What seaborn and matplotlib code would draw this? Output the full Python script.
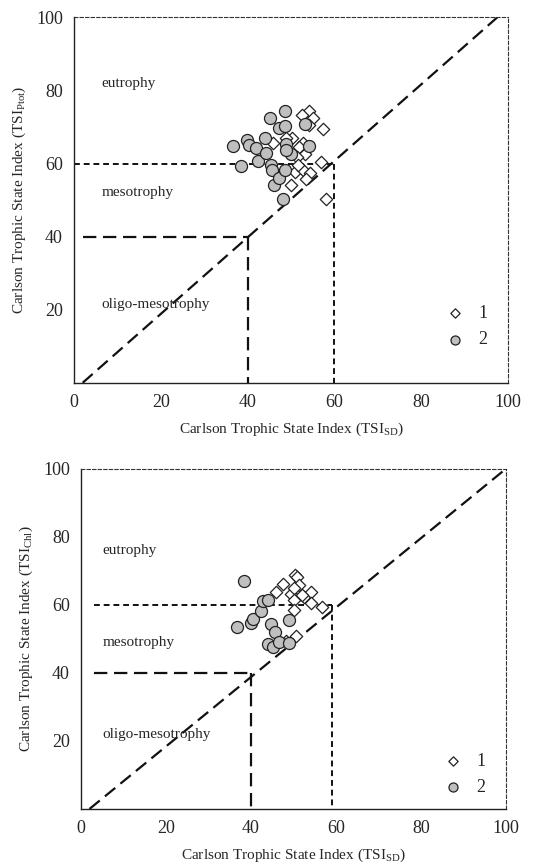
import matplotlib
matplotlib.use("Agg")
import matplotlib.pyplot as plt
import pandas as pd
import seaborn as sns

# top panel: TSI_SD vs TSI_Ptot
top_sd_1 = [54.1, 52.6, 55.1, 54.2, 57.3, 50.2, 48.8, 45.8, 52.8, 51.8, 53.2, 51.3,
            56.9, 50.9, 52.8, 54.4, 53.4, 50.0, 58.1, 51.5]
top_p_1 = [74.5, 73.2, 72.5, 70.5, 69.5, 67.0, 67.0, 65.6, 65.6, 64.4, 62.5, 61.8,
           60.5, 57.7, 58.2, 57.3, 55.9, 54.0, 50.4, 59.5]
top_sd_2 = [36.7, 38.4, 39.9, 40.4, 41.9, 42.3, 44.0, 44.2, 45.2, 45.3, 45.5, 46.1,
            47.2, 47.3, 48.1, 48.5, 48.6, 48.8, 48.7, 50.0, 53.3, 54.1, 48.8]
top_p_2 = [64.8, 59.4, 66.5, 65.2, 64.3, 60.6, 67.0, 63.0, 72.5, 59.6, 58.2, 54.0,
           69.6, 56.0, 50.4, 74.5, 70.2, 65.3, 58.2, 62.7, 70.7, 64.7, 63.8]

# bottom panel: TSI_SD vs TSI_Chl
bot_sd_1 = [50.4, 50.8, 47.5, 45.9, 51.4, 49.4, 50.2, 52.4, 50.2, 54.2, 54.1, 56.7,
            50.2, 50.6, 48.3, 52.0]
bot_chl_1 = [68.8, 68.3, 66.2, 63.7, 65.7, 63.1, 64.9, 62.2, 61.5, 63.9, 60.5, 59.5,
             58.5, 50.7, 49.5, 63.0]
bot_sd_2 = [38.3, 36.8, 40.0, 40.5, 42.4, 42.9, 44.1, 44.7, 45.7, 44.0, 45.1, 46.5,
            48.9, 48.9]
bot_chl_2 = [66.9, 53.4, 54.6, 55.8, 58.2, 61.0, 61.5, 54.4, 52.0, 48.5, 47.5, 49.0,
             55.6, 48.9]

ticks = [0, 20, 40, 60, 80, 100]
ytick_labels = ["", "20", "40", "60", "80", "100"]
zones = ["eutrophy", "mesotrophy", "oligo-mesotrophy"]
top_zone_y = [82, 52, 21.5]
bot_zone_y = [76, 49, 22]

top_diag_x = [2, 97.5]
top_diag_y = [0, 100]
bot_diag_x = [2, 100]
bot_diag_y = [0, 100]


def draw_panel(ax, sd1, v1, sd2, v2, diag_x, diag_y, zone_y, zone_x, ylab,
               start40, start60, v60, leg_anchor):
    d1 = pd.DataFrame({"x": sd1, "y": v1})
    d2 = pd.DataFrame({"x": sd2, "y": v2})
    # class boundaries
    ax.plot(diag_x, diag_y, color="#111111", lw=1.6, dashes=(6, 3), zorder=1)
    ax.plot([start40, 40], [40, 40], color="#111111", lw=1.6, dashes=(6, 3), zorder=1)
    ax.plot([40, 40], [40, 0], color="#111111", lw=1.6, dashes=(6, 3), zorder=1)
    ax.plot([start60, v60], [60, 60], color="#111111", lw=1.4, dashes=(3, 2), zorder=1)
    ax.plot([v60, v60], [60, 0], color="#111111", lw=1.4, dashes=(3, 2), zorder=1)

    sns.scatterplot(data=d1, x="x", y="y", ax=ax, marker="D", s=40, color="white",
                    edgecolor="#222222", linewidth=0.9, label="1", zorder=3)
    sns.scatterplot(data=d2, x="x", y="y", ax=ax, marker="o", s=75, color="#bfbfbf",
                    edgecolor="#222222", linewidth=0.9, label="2", zorder=4)

    for name, yy in zip(zones, zone_y):
        ax.text(zone_x, yy, name, fontsize=11, va="center")

    ax.set_xlim(0, 100)
    ax.set_ylim(0, 100)
    ax.set_xticks(ticks)
    ax.set_yticks(ticks)
    ax.set_yticklabels(ytick_labels)
    ax.tick_params(labelsize=13, length=3, width=0.8, direction="out", pad=5)
    ax.set_xlabel("Carlson Trophic State Index (TSI$_{\\mathregular{SD}}$)", fontsize=11, labelpad=7)
    ax.set_ylabel(ylab, fontsize=11, labelpad=6)

    for side in ["top", "right"]:
        ax.spines[side].set_linestyle((0, (3, 2)))
        ax.spines[side].set_linewidth(0.8)
        ax.spines[side].set_color("#333333")
    for side in ["left", "bottom"]:
        ax.spines[side].set_linewidth(1.0)
        ax.spines[side].set_color("#222222")

    ax.legend(loc="lower right", bbox_to_anchor=leg_anchor, frameon=False,
              fontsize=13, markerscale=0.75, handletextpad=0.5, labelspacing=0.5,
              handlelength=1.6)


sns.set_theme(style="white")
plt.rcParams["font.family"] = ["Liberation Serif", "DejaVu Serif"]
plt.rcParams["mathtext.fontset"] = "custom"
plt.rcParams["mathtext.rm"] = "Liberation Serif"
plt.rcParams["mathtext.it"] = "Liberation Serif"

fig = plt.figure(figsize=(5.36, 8.68), dpi=100)
ax1 = fig.add_axes([0.138, 0.559, 0.810, 0.421])
ax2 = fig.add_axes([0.151, 0.068, 0.793, 0.392])

draw_panel(ax1, top_sd_1, top_p_1, top_sd_2, top_p_2, top_diag_x, top_diag_y, top_zone_y, 6.4,
           "Carlson Trophic State Index (TSI$_{\\mathregular{Ptot}}$)", 2, 0, 60, (0.99, 0.05))
draw_panel(ax2, bot_sd_1, bot_chl_1, bot_sd_2, bot_chl_2, bot_diag_x, bot_diag_y, bot_zone_y, 5,
           "Carlson Trophic State Index (TSI$_{\\mathregular{Chl}}$)", 3, 3, 59, (0.99, -0.01))

fig.savefig("out.png", dpi=100)
